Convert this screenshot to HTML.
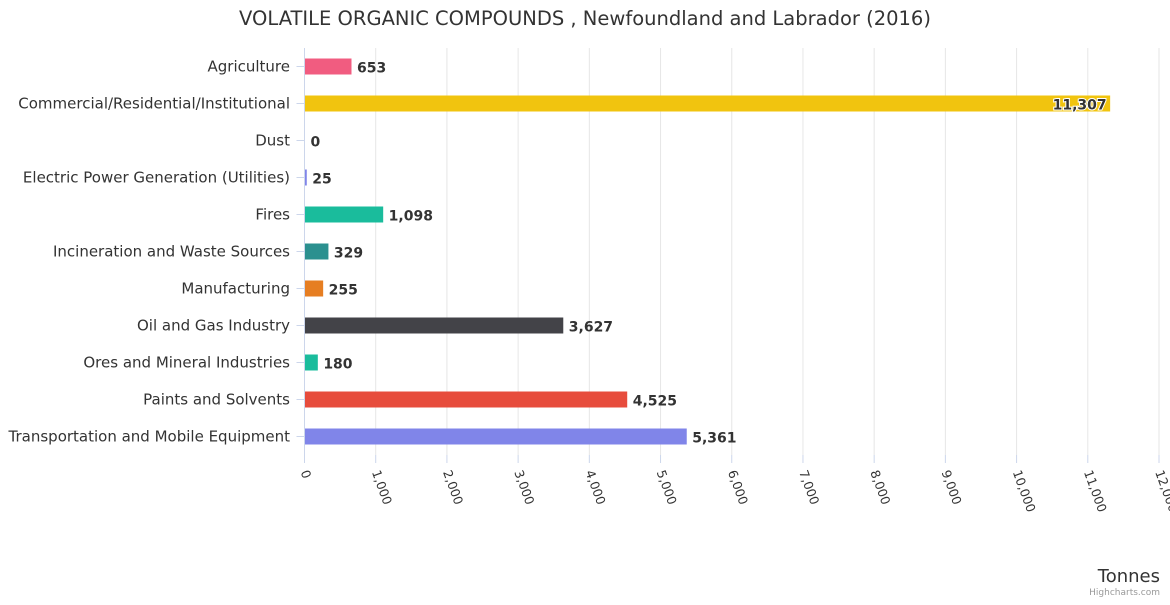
<!DOCTYPE html>
<html><head><meta charset="utf-8"><style>
body{margin:0;background:#fff;font-family:"Liberation Sans","DejaVu Sans",sans-serif}
svg text{font-family:"DejaVu Sans","Liberation Sans",sans-serif}
</style></head><body>
<svg id="chart" width="1170" height="600" xmlns="http://www.w3.org/2000/svg">
<rect width="1170" height="600" fill="#fff"/>
<text x="585" y="25" text-anchor="middle" font-size="19.5" fill="#333">VOLATILE ORGANIC COMPOUNDS , Newfoundland and Labrador (2016)</text>
<g id="grid"></g><g id="bars"></g><g id="cats"></g><g id="ticks"></g>
<text x="1160" y="582" text-anchor="end" font-size="18" fill="#333">Tonnes</text>
<text x="1160" y="595" text-anchor="end" font-size="9" fill="#999">Highcharts.com</text>
</svg>
<script>
const categories=["Agriculture","Commercial/Residential/Institutional","Dust","Electric Power Generation (Utilities)","Fires","Incineration and Waste Sources","Manufacturing","Oil and Gas Industry","Ores and Mineral Industries","Paints and Solvents","Transportation and Mobile Equipment"];
const values=[653,11307,0,25,1098,329,255,3627,180,4525,5361];
const colors=["#f15c80","#f1c40f","#2b908f","#8085e9","#1abc9c","#2b908f","#e67e22","#434348","#1abc9c","#e74c3c","#8085e9"];
const tickValues=[0,1000,2000,3000,4000,5000,6000,7000,8000,9000,10000,11000,12000];
const NS="http://www.w3.org/2000/svg";
const x0=304.5,x1=1159,plotTop=48,bot=455,band=37;
const xs=v=>x0+v/12000*(x1-x0);
const yc=i=>plotTop+band*i+18.5;
function mk(t,a,p){const e=document.createElementNS(NS,t);for(const k in a)e.setAttribute(k,a[k]);p.appendChild(e);return e;}
const g=document.getElementById('grid'),b=document.getElementById('bars'),c=document.getElementById('cats'),tk=document.getElementById('ticks');
tickValues.forEach(v=>{
 const l=mk('line',{x1:xs(v),x2:xs(v),y1:plotTop,y2:bot,stroke:v===0?'#ccd6eb':'#e6e6e6'},g);
 
 
 const m=mk('line',{x1:xs(v),x2:xs(v),y1:bot,y2:bot+8,stroke:'#ccd6eb'},g);
 
 
 const x=xs(v)-4,y=bot+17;
 const t=mk('text',{x:x,y:y,transform:`rotate(70 ${x} ${y})`,'font-size':12.5,fill:'#333'},tk);
 t.textContent=v.toLocaleString('en-US');
 
 
});
categories.forEach((name,i)=>{
 const y=yc(i);
 const tl=mk('line',{x1:x0-8,x2:x0,y1:y,y2:y,stroke:'#ccd6eb'},c);
 
 
 const t=mk('text',{x:290,y:y+5,'text-anchor':'end','font-size':15,fill:'#333'},c);
 t.textContent=name;
 
 
 const w=Math.max(0,xs(values[i])-x0);
 const r=mk('rect',{x:x0+0.5,y:y-8,width:w,height:16,fill:colors[i]},b);
 
 
 const inside=values[i]>10000;
 const lx=inside?xs(values[i])-3:xs(values[i])+6;
 const lt=mk('text',{x:lx,y:y+6,'text-anchor':inside?'end':'start','font-size':14,'font-weight':'bold',fill:'#333',stroke:inside?'#fff':'none','stroke-width':inside?2:0,'paint-order':'stroke'},b);
 lt.textContent=values[i].toLocaleString('en-US');
 
 
});
</script>
</body></html>
